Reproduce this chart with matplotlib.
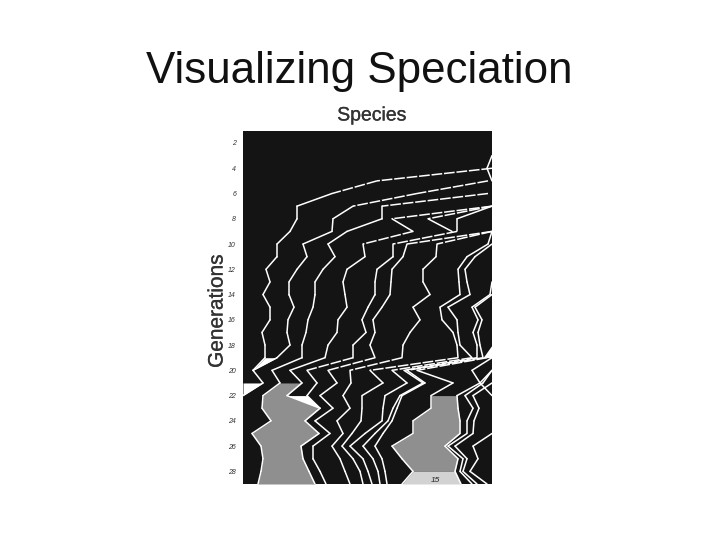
import numpy as np
import matplotlib
matplotlib.use("Agg")
import matplotlib.pyplot as plt
import matplotlib.patheffects as pe

plt.rcParams['font.family'] = ['Liberation Sans', 'DejaVu Sans']

TITLE = "Visualizing Speciation"
X_LABEL = "Species"
Y_LABEL = "Generations"
GEN_TICKS = [2, 4, 6, 8, 10, 12, 14, 16, 18, 20, 22, 24, 26, 28]
FINAL_LABEL = "15"

# species boundaries: (first generation, cumulative population per generation)
s01 = (4, [249, 134, 89, 54, 54, 47, 34, 34, 23, 27, 20, 27, 27, 19, 22, 22, 10, 20, 0])
s02 = (5, [245, 174, 110, 90, 89, 60, 64, 54, 46, 46, 51, 45, 44, 47, 34, 10])
s03 = (6, [245, 139, 139, 104, 85, 92, 80, 72, 72, 70, 65, 63, 59, 59, 29, 37, 20, 19, 28, 9, 18, 20, 18, 15])
s04 = (7, [249, 149, 170, 120, 122, 104, 100, 102, 104, 95, 94, 85, 82, 47, 59, 44, 77, 62, 76, 58, 60, 66, 72])
s05 = (7, [249, 185, 209])
s06 = (7, [249, 214, 214, 150, 150, 134, 132, 132, 125, 119, 123, 110, 110, 64, 74, 64, 77])
s07 = (9, [249, 164, 160, 149, 148, 147, 139, 130, 132, 127, 132, 85, 94, 77, 90, 72, 87, 70, 70, 77, 83])
s08 = (9, [249, 194, 193, 180, 180, 187, 170, 177, 167, 160, 159, 107, 108, 100, 107, 94, 100, 89, 97, 102, 107])
s09 = (9, [249, 245, 224, 215, 216, 217, 197, 199, 210, 214, 215, 127, 140, 119, 119, 118, 109, 99, 110, 117, 120])
s10 = (10, [249, 232, 222, 224, 227, 205, 214, 215, 217, 229, 149, 164, 142, 140, 139, 122, 107, 120, 125, 129])
s11 = (13, [249, 247, 229, 235, 230, 234, 234, 161, 180, 157, 150, 145, 132, 120, 130, 135, 137])
s12 = (14, [249, 232, 239, 235, 237, 240, 164, 182, 159, 154, 149, 140, 132, 139, 142, 144])
s13 = (19, [244, 174, 210, 188, 188, 170, 170, 149, 159, 170, 159])
s14 = (20, [249, 237, 214, 215, 217, 217, 202, 215, 212, 218])
s15 = (20, [249, 240, 222, 230, 224, 224, 205, 220, 217, 229])
s16 = (21, [249, 230, 236, 231, 230, 212, 224, 220, 234])
s17 = (25, [249, 230, 235, 227, 244])
s18 = (19, [249, 229, 237, 249])
s19 = (3, [249, 244, 249])
s20 = (18, [249, 240])

boundaries = [s01, s02, s03, s04, s05, s06, s07, s08, s09, s10,
              s11, s12, s13, s14, s15, s16, s17, s18, s19]


def gens(s):
    return np.arange(s[0], s[0] + len(s[1]))


def between(a, b, g0, g1):
    """Return generations and the two boundary values over [g0, g1]."""
    g = np.arange(g0, g1 + 1)
    return g, np.array(a[1])[g - a[0]], np.array(b[1])[g - b[0]]


fig = plt.figure(figsize=(7.2, 5.4), dpi=100, facecolor='white')
ax = fig.add_axes([243 / 720, 1 - 484 / 540, 249 / 720, 353 / 540])
ax.set_facecolor('#141414')
ax.set_xlim(0, 249)
ax.set_ylim(29, 1.05)

# gray species regions
g, a, b = between(s03, s04, 21, 29)
ax.fill_betweenx(g, a, b, color='#8f8f8f', lw=0, zorder=1)
g, a, b = between(s13, s14, 22, 28)
ax.fill_betweenx(g, a, b, color='#8f8f8f', lw=0, zorder=1)
g, a, b = between(s13, s14, 28, 29)
ax.fill_betweenx(g, a, b, color='#d2d2d2', lw=0, zorder=1)

# white wedges of extinct species
g, a, b = between(s01, s02, 19, 20)
ax.fill_betweenx(g, a, b, color='white', lw=0, zorder=2)
g, a, _ = between(s01, s01, 21, 22)
ax.fill_betweenx(g, 0, a, color='white', lw=0, zorder=2)
g, a, b = between(s04, s06, 22, 23)
ax.fill_betweenx(g, a, b, color='white', lw=0, zorder=2)
g, a, _ = between(s20, s20, 18, 19)
ax.fill_betweenx(g, a, 249, color='white', lw=0, zorder=2)

# shallow (fast-moving) boundary segments break up into dashes in the reference
for s in boundaries:
    xs, ys = s[1], gens(s)
    for i in range(len(xs) - 1):
        shallow = abs(xs[i + 1] - xs[i]) > 40
        ax.plot(xs[i:i + 2], ys[i:i + 2], color='white', lw=1.1,
                linestyle=(0, (7, 1.2)) if shallow else '-',
                solid_capstyle='round', zorder=3)

ax.text(192, 28.75, FINAL_LABEL, fontsize=6, style='italic', color='#222222',
        ha='center', va='center', zorder=4)

ax.set_xticks([])
ax.set_yticks(GEN_TICKS)
ax.set_yticklabels([str(v) for v in GEN_TICKS], fontsize=5, style='italic', color='#333333')
ax.tick_params(axis='y', length=0, pad=5)
for sp in ax.spines.values():
    sp.set_visible(False)

bold = [pe.withStroke(linewidth=0.2, foreground='#333333')]
fig.text(359 / 720, 1 - 71 / 540, TITLE, fontsize=31.6, ha='center', va='center', color='#111111')
fig.text(372 / 720, 1 - 116 / 540, X_LABEL, fontsize=14, ha='center', va='center', color='#333333',
         path_effects=bold)
fig.text(217 / 720, 1 - 311 / 540, Y_LABEL, fontsize=15, rotation=90, ha='center', va='center', color='#333333',
         path_effects=bold)

fig.savefig('out.png', dpi=100, facecolor='white')
